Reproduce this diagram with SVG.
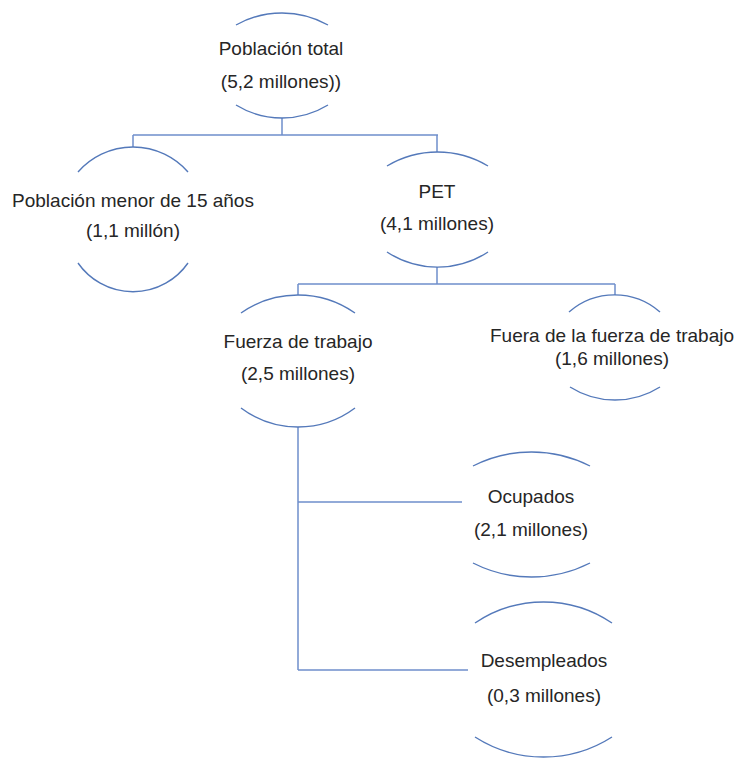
<svg xmlns="http://www.w3.org/2000/svg" width="739" height="760" viewBox="0 0 739 760">
<style>
.arc{fill:none;stroke:#5479BA;stroke-width:1.4}
.con{fill:none;stroke:#6F8FCB;stroke-width:1.5}
.t{font-family:"Liberation Sans",Arial,sans-serif;font-size:19px;fill:#262626;text-anchor:middle}
</style>
<rect width="739" height="760" fill="#ffffff"/>
<g id="connectors">
<path class="con" d="M282 118V135M133 135H438M133 135V147M437 135V152"/>
<path class="con" d="M437 267V284M298 284H615M298 284V295M615 284V295"/>
<path class="con" d="M298 427V670M298 502H462M298 670H468"/>
</g>
<g id="n-poblacion-total">
<path class="arc" d="M236 25A94 94 0 0 1 328 25"/>
<path class="arc" d="M236 105A88 88 0 0 0 328 105"/>
<text class="t" x="281" y="55">Población total</text>
<text class="t" x="281" y="88">(5,2 millones))</text>
</g>
<g id="n-menor-15">
<path class="arc" d="M78 172A73 73 0 0 1 188 172"/>
<path class="arc" d="M78 263A67 67 0 0 0 188 263"/>
<text class="t" x="133" y="207">Población menor de 15 años</text>
<text class="t" x="133" y="237">(1,1 millón)</text>
</g>
<g id="n-pet">
<path class="arc" d="M387 166A98 98 0 0 1 488 166"/>
<path class="arc" d="M387 252A92 92 0 0 0 488 252"/>
<text class="t" x="437" y="198">PET</text>
<text class="t" x="437" y="230">(4,1 millones)</text>
</g>
<g id="n-fuerza-trabajo">
<path class="arc" d="M241 313A99 99 0 0 1 355 313"/>
<path class="arc" d="M241 408A95 95 0 0 0 355 408"/>
<text class="t" x="298" y="348">Fuerza de trabajo</text>
<text class="t" x="298" y="380">(2,5 millones)</text>
</g>
<g id="n-fuera-fuerza">
<path class="arc" d="M569 312A69 69 0 0 1 660 312"/>
<path class="arc" d="M570 387A84 84 0 0 0 660 387"/>
<text class="t" x="612" y="342">Fuera de la fuerza de trabajo</text>
<text class="t" x="612" y="365">(1,6 millones)</text>
</g>
<g id="n-ocupados">
<path class="arc" d="M473 466A129 129 0 0 1 590 466"/>
<path class="arc" d="M473 563A129 129 0 0 0 590 563"/>
<text class="t" x="531" y="503">Ocupados</text>
<text class="t" x="531" y="536">(2,1 millones)</text>
</g>
<g id="n-desempleados">
<path class="arc" d="M475 623A122 122 0 0 1 612 623"/>
<path class="arc" d="M475 737A127 127 0 0 0 612 737"/>
<text class="t" x="544" y="667">Desempleados</text>
<text class="t" x="544" y="702">(0,3 millones)</text>
</g>
</svg>
